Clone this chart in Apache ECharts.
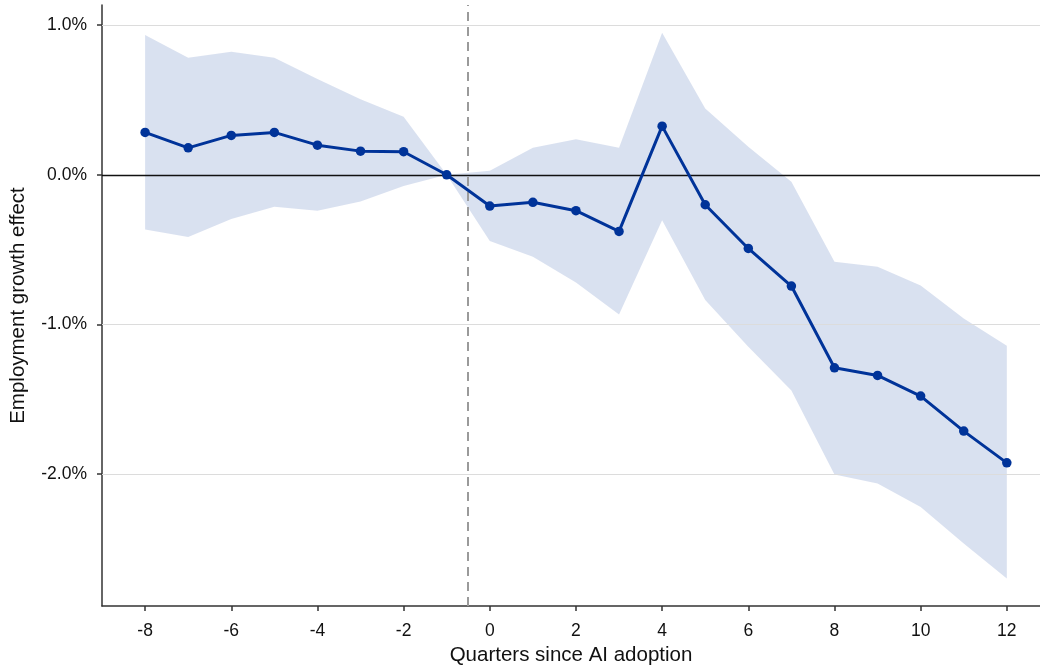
<!DOCTYPE html>
<html>
<head>
<meta charset="utf-8">
<script src="https://cdn.jsdelivr.net/npm/echarts@6/dist/echarts.min.js"></script>
<style>
html,body{margin:0;padding:0;background:#fff;}
#chart{width:1040px;height:668px;}
</style>
</head>
<body>
<div id="chart"></div>
<script>
const quarters = [-8,-7,-6,-5,-4,-3,-2,-1,0,1,2,3,4,5,6,7,8,9,10,11,12];
const effect = [0.283,0.180,0.263,0.283,0.198,0.158,0.154,0,-0.209,-0.184,-0.240,-0.378,0.325,-0.200,-0.492,-0.743,-1.289,-1.340,-1.478,-1.712,-1.924];
const upper = [0.933,0.782,0.822,0.782,0.639,0.504,0.387,0,0.027,0.180,0.238,0.180,0.949,0.443,0.187,-0.047,-0.581,-0.615,-0.740,-0.959,-1.142];
const lower = [-0.365,-0.416,-0.296,-0.214,-0.240,-0.178,-0.075,0,-0.443,-0.548,-0.719,-0.933,-0.303,-0.837,-1.149,-1.440,-2.001,-2.062,-2.218,-2.462,-2.696];
const xTicks = [-8,-6,-4,-2,0,2,4,6,8,10,12];
const yTicks = [-2,-1,0,1];
const gridValues = [1,-1,-2];
const adoptionLine = -0.5;

const FONT = 'Liberation Sans, Arial, sans-serif';
const chart = echarts.init(document.getElementById('chart'), null, {renderer:'canvas'});

const lineData = quarters.map((q,i)=>[q, effect[i]]);
const bandData = quarters.map((q,i)=>[q, upper[i], lower[i]]);

chart.setOption({
  animation:false,
  backgroundColor:'#ffffff',
  grid:{left:102,right:0,top:5,bottom:62,containLabel:false,outerBoundsMode:'none'},
  xAxis:{
    type:'value', min:-9, max:12.77,
    name:'Quarters since AI adoption', nameLocation:'middle', nameGap:37,
    nameTextStyle:{fontFamily:FONT,fontSize:20.5,color:'#111'},
    axisLine:{show:true,onZero:false,lineStyle:{color:'#333',width:1.5}},
    axisTick:{show:true,length:5,lineStyle:{color:'#333',width:1.5},customValues:xTicks},
    axisLabel:{fontFamily:FONT,fontSize:17.5,color:'#111',margin:16,customValues:xTicks,showMinLabel:true,showMaxLabel:true},
    splitLine:{show:false}
  },
  yAxis:{
    type:'value', min:-2.88, max:1.134,
    name:'Employment growth effect', nameLocation:'middle', nameGap:73,
    nameTextStyle:{fontFamily:FONT,fontSize:20.5,color:'#111'},
    axisLine:{show:true,onZero:false,lineStyle:{color:'#333',width:1.5}},
    axisTick:{show:true,length:5,lineStyle:{color:'#333',width:1.5},customValues:yTicks},
    axisLabel:{fontFamily:FONT,fontSize:17.5,color:'#111',margin:15,customValues:yTicks,
      formatter:v=>Number(v).toFixed(1)+'%'},
    splitLine:{show:false}
  },
  series:[
    {
      type:'custom', name:'CI', z:2, silent:true,
      data:bandData,
      encode:{x:0,y:[1,2]},
      renderItem:function(params, api){
        if (params.dataIndex !== 0) return null;
        const pts = [];
        for (let i=0;i<quarters.length;i++) pts.push(api.coord([quarters[i], upper[i]]));
        for (let i=quarters.length-1;i>=0;i--) pts.push(api.coord([quarters[i], lower[i]]));
        return {type:'polygon', shape:{points:pts}, style:{fill:'rgba(0,51,153,0.15)'}};
      }
    },
    {
      type:'line', name:'guides', z:3, silent:true,
      data:lineData, symbol:'none', lineStyle:{width:0,opacity:0},
      markLine:{
        silent:true, symbol:'none', z:3, animation:false,
        label:{show:false},
        emphasis:{disabled:true},
        data:[
          ...gridValues.map(v=>({yAxis:v, lineStyle:{color:'#dcdcdc',width:1.2,type:'solid'}})),
          {yAxis:0, lineStyle:{color:'#111',width:1.3,type:'solid'}},
          {xAxis:adoptionLine, lineStyle:{color:'#9a9a9a',width:2,type:[9,6]}}
        ]
      }
    },
    {
      type:'line', name:'Effect', z:10,
      data:lineData,
      symbol:'circle', symbolSize:9.5, showSymbol:true,
      itemStyle:{color:'#003399'},
      lineStyle:{color:'#003399',width:3},
      emphasis:{disabled:true}
    }
  ]
});
</script>
</body>
</html>
